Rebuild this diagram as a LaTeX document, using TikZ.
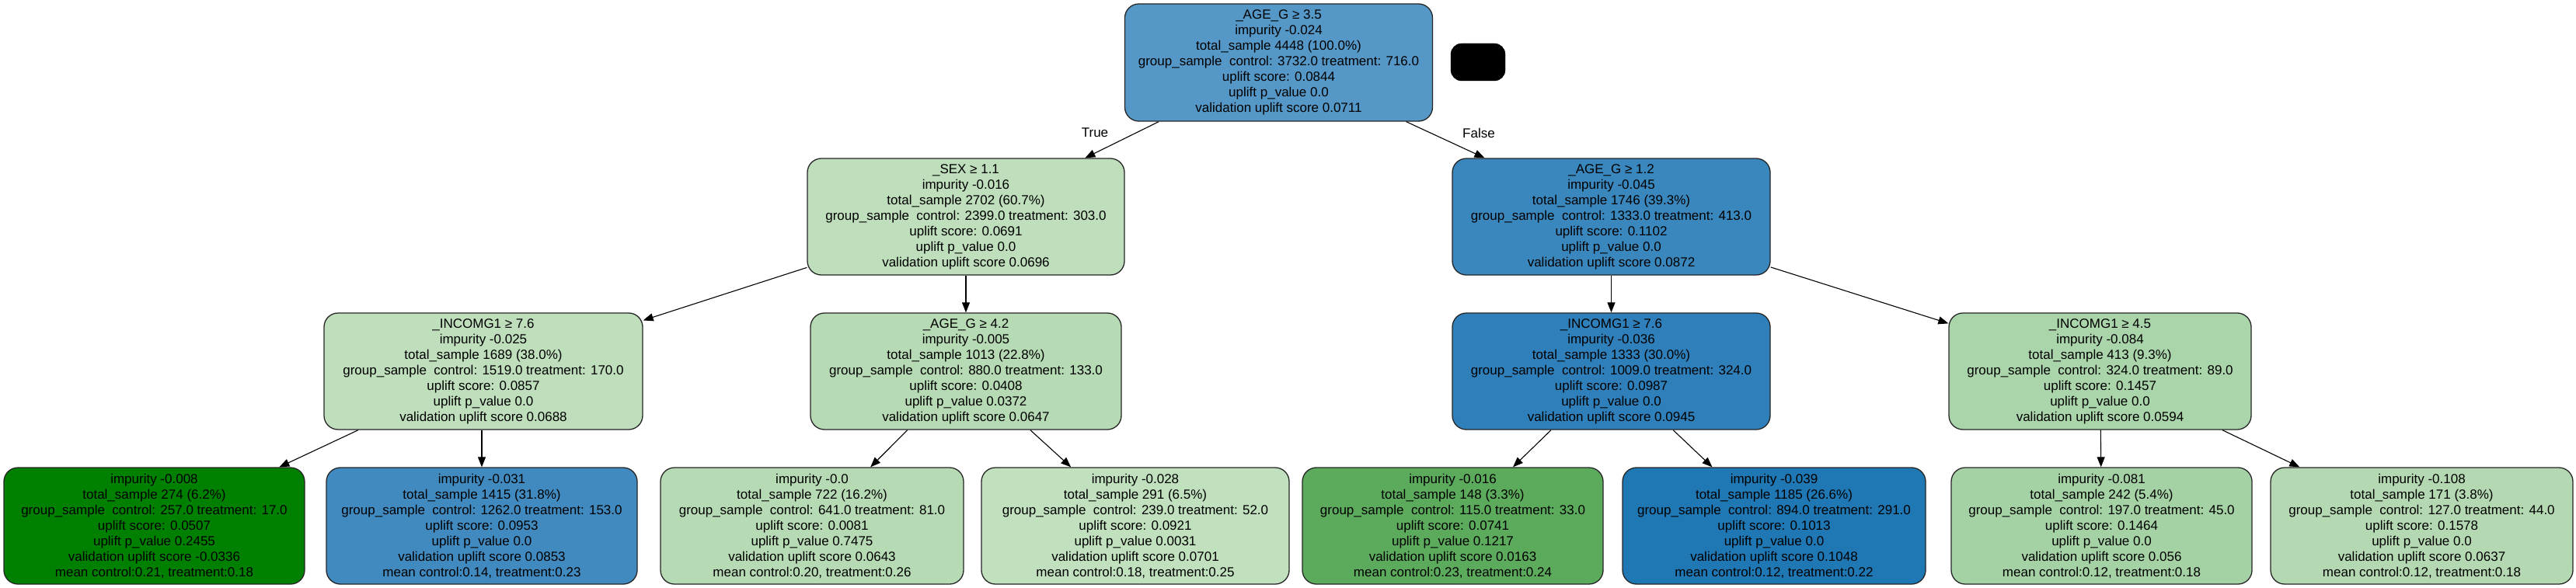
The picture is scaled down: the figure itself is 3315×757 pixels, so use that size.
\documentclass[tikz,border=0pt]{standalone}
\usepackage{fontspec}
\setmainfont{Liberation Sans}
\usetikzlibrary{arrows.meta}
\definecolor{cRoot}{RGB}{85,151,198}
\definecolor{cSex}{RGB}{190,222,188}
\definecolor{cAgeA}{RGB}{58,135,190}
\definecolor{cIncL}{RGB}{190,222,188}
\definecolor{cAgeB}{RGB}{182,218,180}
\definecolor{cIncR}{RGB}{47,127,186}
\definecolor{cIncC}{RGB}{170,213,170}
\definecolor{cLa}{RGB}{0,128,0}
\definecolor{cLb}{RGB}{65,138,192}
\definecolor{cLc}{RGB}{182,218,180}
\definecolor{cLd}{RGB}{192,224,190}
\definecolor{cLe}{RGB}{92,170,92}
\definecolor{cLf}{RGB}{31,119,180}
\definecolor{cLg}{RGB}{165,210,165}
\definecolor{cLh}{RGB}{180,217,178}
\tikzset{
  treebox/.style={draw=black!85, line width=1.3pt, rounded corners=18pt,
    minimum height=150pt, inner sep=0pt, align=center,
    font=\fontsize{17}{20}\selectfont},
  edge/.style={line width=1.1pt, -{Triangle[length=13pt,width=10pt]}},
  elabel/.style={font=\fontsize{17}{20}\selectfont}
}
\begin{document}
\begin{tikzpicture}[x=1pt,y=-1pt]
\fill[white] (0,0) rectangle (3315,757);
\useasboundingbox (0,0) rectangle (3315,757);

\node[treebox, fill=cRoot, minimum width=396pt, minimum height=151pt] (root) at (1645.5,80.5)
 {\_AGE\_G ≥ 3.5\\impurity -0.024\\total\_sample 4448 (100.0\%)\\group\_sample\ \ control: 3732.0 treatment: 716.0\\uplift score: 0.0844\\uplift p\_value 0.0\\validation uplift score 0.0711};
\node[fill=black, draw=black, rounded corners=14pt, minimum width=70pt, minimum height=48pt, inner sep=0pt] (legend) at (1902,80) {};

\node[treebox, fill=cSex, minimum width=408pt] (sex) at (1243,279)
 {\_SEX ≥ 1.1\\impurity -0.016\\total\_sample 2702 (60.7\%)\\group\_sample\ \ control: 2399.0 treatment: 303.0\\uplift score: 0.0691\\uplift p\_value 0.0\\validation uplift score 0.0696};
\node[treebox, fill=cAgeA, minimum width=409pt] (agea) at (2073.5,279)
 {\_AGE\_G ≥ 1.2\\impurity -0.045\\total\_sample 1746 (39.3\%)\\group\_sample\ \ control: 1333.0 treatment: 413.0\\uplift score: 0.1102\\uplift p\_value 0.0\\validation uplift score 0.0872};

\node[treebox, fill=cIncL, minimum width=410pt] (incl) at (622,478)
 {\_INCOMG1 ≥ 7.6\\impurity -0.025\\total\_sample 1689 (38.0\%)\\group\_sample\ \ control: 1519.0 treatment: 170.0\\uplift score: 0.0857\\uplift p\_value 0.0\\validation uplift score 0.0688};
\node[treebox, fill=cAgeB, minimum width=400pt] (ageb) at (1243,478)
 {\_AGE\_G ≥ 4.2\\impurity -0.005\\total\_sample 1013 (22.8\%)\\group\_sample\ \ control: 880.0 treatment: 133.0\\uplift score: 0.0408\\uplift p\_value 0.0372\\validation uplift score 0.0647};
\node[treebox, fill=cIncR, minimum width=409pt] (incr) at (2073.5,478)
 {\_INCOMG1 ≥ 7.6\\impurity -0.036\\total\_sample 1333 (30.0\%)\\group\_sample\ \ control: 1009.0 treatment: 324.0\\uplift score: 0.0987\\uplift p\_value 0.0\\validation uplift score 0.0945};
\node[treebox, fill=cIncC, minimum width=389pt] (incc) at (2702.5,478)
 {\_INCOMG1 ≥ 4.5\\impurity -0.084\\total\_sample 413 (9.3\%)\\group\_sample\ \ control: 324.0 treatment: 89.0\\uplift score: 0.1457\\uplift p\_value 0.0\\validation uplift score 0.0594};

\node[treebox, fill=cLa, minimum width=387pt] (la) at (198.5,677)
 {impurity -0.008\\total\_sample 274 (6.2\%)\\group\_sample\ \ control: 257.0 treatment: 17.0\\uplift score: 0.0507\\uplift p\_value 0.2455\\validation uplift score -0.0336\\mean control:0.21, treatment:0.18};
\node[treebox, fill=cLb, minimum width=400pt] (lb) at (620,677)
 {impurity -0.031\\total\_sample 1415 (31.8\%)\\group\_sample\ \ control: 1262.0 treatment: 153.0\\uplift score: 0.0953\\uplift p\_value 0.0\\validation uplift score 0.0853\\mean control:0.14, treatment:0.23};
\node[treebox, fill=cLc, minimum width=390pt] (lc) at (1045,677)
 {impurity -0.0\\total\_sample 722 (16.2\%)\\group\_sample\ \ control: 641.0 treatment: 81.0\\uplift score: 0.0081\\uplift p\_value 0.7475\\validation uplift score 0.0643\\mean control:0.20, treatment:0.26};
\node[treebox, fill=cLd, minimum width=396pt] (ld) at (1461,677)
 {impurity -0.028\\total\_sample 291 (6.5\%)\\group\_sample\ \ control: 239.0 treatment: 52.0\\uplift score: 0.0921\\uplift p\_value 0.0031\\validation uplift score 0.0701\\mean control:0.18, treatment:0.25};
\node[treebox, fill=cLe, minimum width=387pt] (le) at (1869.5,677)
 {impurity -0.016\\total\_sample 148 (3.3\%)\\group\_sample\ \ control: 115.0 treatment: 33.0\\uplift score: 0.0741\\uplift p\_value 0.1217\\validation uplift score 0.0163\\mean control:0.23, treatment:0.24};
\node[treebox, fill=cLf, minimum width=390pt] (lf) at (2283,677)
 {impurity -0.039\\total\_sample 1185 (26.6\%)\\group\_sample\ \ control: 894.0 treatment: 291.0\\uplift score: 0.1013\\uplift p\_value 0.0\\validation uplift score 0.1048\\mean control:0.12, treatment:0.22};
\node[treebox, fill=cLg, minimum width=387pt] (lg) at (2704.5,677)
 {impurity -0.081\\total\_sample 242 (5.4\%)\\group\_sample\ \ control: 197.0 treatment: 45.0\\uplift score: 0.1464\\uplift p\_value 0.0\\validation uplift score 0.056\\mean control:0.12, treatment:0.18};
\node[treebox, fill=cLh, minimum width=389pt] (lh) at (3116.5,677)
 {impurity -0.108\\total\_sample 171 (3.8\%)\\group\_sample\ \ control: 127.0 treatment: 44.0\\uplift score: 0.1578\\uplift p\_value 0.0\\validation uplift score 0.0637\\mean control:0.12, treatment:0.18};

\draw[edge] (root) -- (sex);
\draw[edge] (root) -- (agea);
\node[elabel] (ltrue) at (1409,171) {True};
\node[elabel] (lfalse) at (1903,171) {False};
\draw[edge] (sex) -- (incl);
\draw[edge] (sex) -- (ageb);
\draw[edge] (agea) -- (incr);
\draw[edge] (agea) -- (incc);
\draw[edge] (incl) -- (la);
\draw[edge] (incl.south -| lb.north) -- (lb);
\draw[edge] (ageb) -- (lc);
\draw[edge] (ageb) -- (ld);
\draw[edge] (incr) -- (le);
\draw[edge] (incr) -- (lf);
\draw[edge] (incc) -- (lg);
\draw[edge] (incc) -- (lh);
\end{tikzpicture}
\end{document}
